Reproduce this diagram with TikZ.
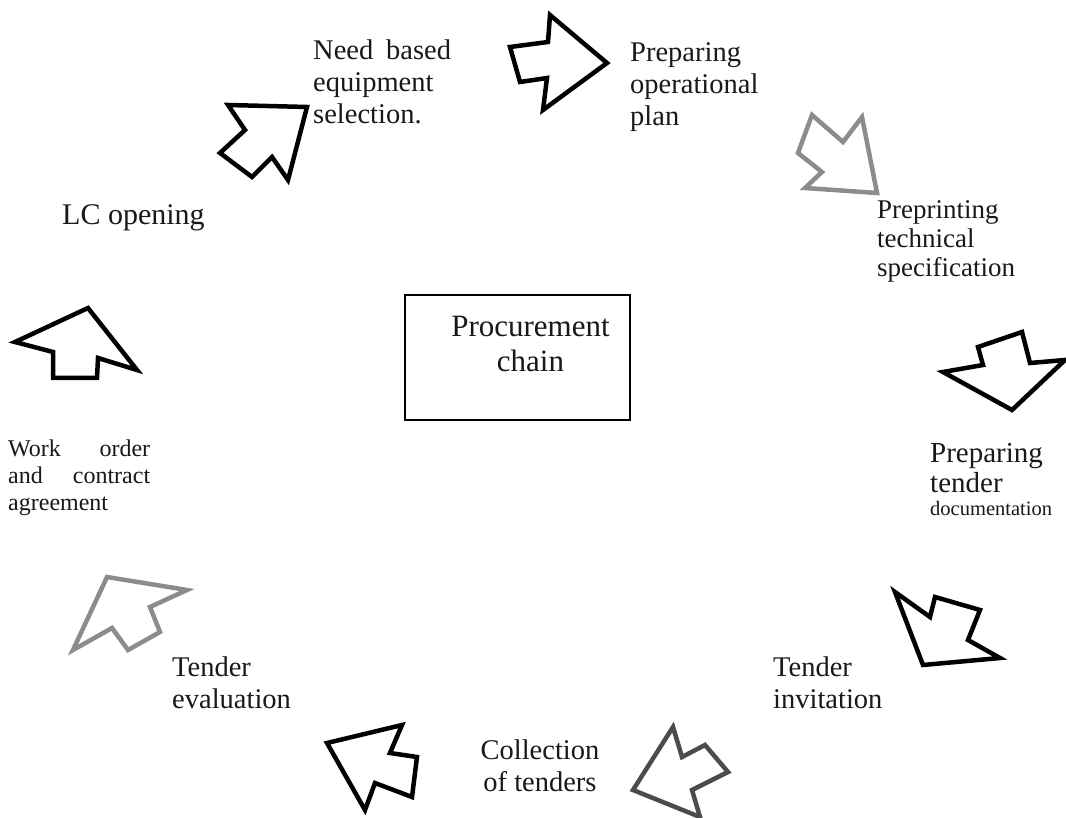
\documentclass[tikz,border=0pt]{standalone}
\usepackage{fontspec}
\setmainfont{Liberation Serif}
\begin{document}
\begin{tikzpicture}[x=1pt,y=-1pt,
  blockarrow/.style={draw=black, line width=4.5pt, line join=miter, fill=white},
  greyarrow/.style={blockarrow, draw=black!45},
  darkarrow/.style={blockarrow, draw=black!70},
  lbl/.style={inner sep=0pt, align=left, anchor=north west, text=black!90,
              font=\fontsize{28.5}{32}\selectfont},
  midlbl/.style={lbl, align=center, anchor=north},
  framebox/.style={draw=black, line width=1.2pt, minimum width=225pt, minimum height=125pt,
                 inner sep=0pt},
  boxtext/.style={inner sep=0pt, align=center, text=black!90, font=\fontsize{31}{35}\selectfont}]
% page
\useasboundingbox[fill=white] (0,0) rectangle (1066,818);

% centre box
\node[framebox] (chainbox) at (517.5,357.5) {};
\node[boxtext, xshift=13pt, yshift=13pt] (chain) at (chainbox.center) {Procurement\\chain};

% step labels
\node[lbl] (need) at (313,40) {Need\hspace{0.45em}based\\equipment\\selection.};
\node[lbl] (plan) at (630,42) {Preparing\\operational\\plan};
\node[lbl, font=\fontsize{27}{29}\selectfont] (spec) at (877,200) {Preprinting\\technical\\specification};
\node[lbl, font=\fontsize{29}{30}\selectfont] (tenderdoc) at (930,443)
  {Preparing\\tender\\[-7pt]{\fontsize{20.5}{22}\selectfont documentation}};
\node[lbl] (invite) at (773,657) {Tender\\invitation};
\node[midlbl] (collect) at (540,740) {Collection\\of tenders};
\node[lbl] (evaluate) at (172,657) {Tender\\evaluation};
\node[lbl, font=\fontsize{24}{27}\selectfont] (order) at (8,440)
  {\makebox[142pt][s]{Work\hfill order}\\\makebox[142pt][s]{and\hfill contract}\\agreement};
\node[lbl, font=\fontsize{30}{32}\selectfont] (lc) at (62,204) {LC opening};

% block arrows around the cycle
\draw[blockarrow] (510,47) -- (548,42) -- (550,15) -- (607,63) -- (543,110) -- (547,78) -- (520,82) -- cycle;
\draw[greyarrow]  (812,115) -- (843,142) -- (862,117) -- (877,193) -- (805,188) -- (822,172) -- (798,153) -- cycle;
\draw[blockarrow] (943,372) -- (983,365) -- (978,347) -- (1022,332) -- (1030,363) -- (1065,360) -- (1012,410) -- cycle;
\draw[blockarrow] (895,592) -- (930,617) -- (935,597) -- (980,610) -- (968,640) -- (1000,658) -- (923,665) -- cycle;
\draw[darkarrow]  (673,727) -- (682,757) -- (705,745) -- (728,772) -- (692,790) -- (700,817) -- (633,790) -- cycle;
\draw[blockarrow] (327,743) -- (402,725) -- (390,753) -- (417,757) -- (412,797) -- (375,783) -- (365,810) -- cycle;
\draw[greyarrow]  (107,577) -- (187,590) -- (150,607) -- (160,632) -- (128,650) -- (112,628) -- (73,650) -- cycle;
\draw[blockarrow] (15,342) -- (88,308) -- (137,370) -- (98,358) -- (97,378) -- (53,378) -- (53,352) -- cycle;
\draw[blockarrow] (228,105) -- (307,107) -- (288,180) -- (272,157) -- (252,177) -- (220,153) -- (245,130) -- cycle;
\end{tikzpicture}
\end{document}
